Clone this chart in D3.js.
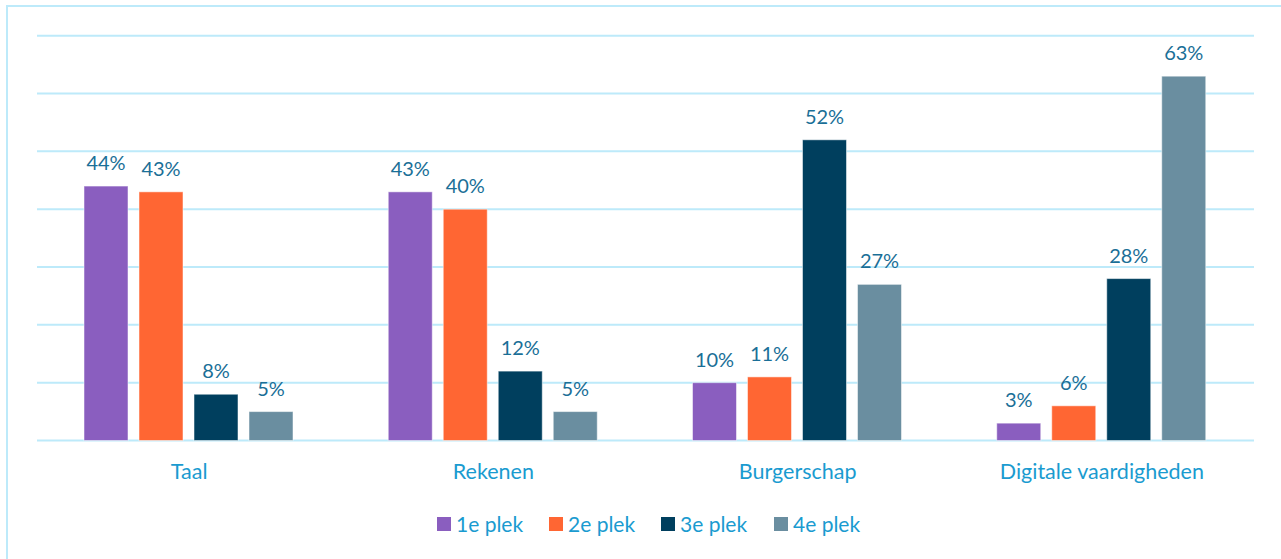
<!DOCTYPE html>
<html><head><meta charset="utf-8">
<script src="https://cdn.jsdelivr.net/npm/d3@7"></script>
<style>body{margin:0;background:#fff}svg{display:block}</style>
</head><body><svg id="c" width="1281" height="559"></svg>
<script>
const categories = ["Taal", "Rekenen", "Burgerschap", "Digitale vaardigheden"];
const seriesNames = ["1e plek", "2e plek", "3e plek", "4e plek"];
const seriesColors = ["#8A5EBF", "#FF6633", "#003F5E", "#6A8EA0"];
const s1 = [44, 43, 10, 3];
const s2 = [43, 40, 11, 6];
const s3 = [8, 12, 52, 28];
const s4 = [5, 5, 27, 63];
const yTicks = [0, 10, 20, 30, 40, 50, 60, 70];
const series = [s1, s2, s3, s4];

const svg = d3.select("#c");
const font = "Lato, 'Open Sans', sans-serif";
svg.append("rect").attr("x", 7).attr("y", 6).attr("width", 1290).attr("height", 600)
  .attr("fill", "none").attr("stroke", "#BDEAFA").attr("stroke-width", 2);

const x0 = d3.scaleBand().domain(categories).range([37, 1254]).paddingInner(0).paddingOuter(0);
const x1 = d3.scaleBand().domain(seriesNames).range([47, 47 + 4 * 43 + 3 * 12]).paddingInner(12 / 55);
const y = d3.scaleLinear().domain([0, 70]).range([440.5, 35.7]);

svg.append("g").selectAll("line").data(yTicks).join("line")
  .attr("x1", 37).attr("x2", 1254).attr("y1", d => y(d)).attr("y2", d => y(d))
  .attr("stroke", "#BDEAFA").attr("stroke-width", 2);

const data = [];
categories.forEach((c, i) => series.forEach((s, j) => data.push({c, n: seriesNames[j], v: s[i], col: seriesColors[j]})));

const g = svg.append("g");
g.selectAll("rect").data(data).join("rect")
  .attr("x", d => x0(d.c) + x1(d.n)).attr("width", x1.bandwidth() + 1)
  .attr("y", d => y(d.v)).attr("height", d => y(0) - y(d.v))
  .attr("fill", d => d.col).attr("stroke", "rgba(255,255,255,0.5)").attr("stroke-width", 1);

g.selectAll("text").data(data).join("text")
  .attr("x", d => x0(d.c) + x1(d.n) + x1.bandwidth() / 2 + 0.5).attr("y", d => y(d.v) - 16)
  .attr("text-anchor", "middle").attr("font-family", font).attr("font-size", 20)
  .attr("fill", "#1A6F97").text(d => d.v + "%");

svg.append("g").selectAll("text").data(categories).join("text")
  .attr("x", d => x0(d) + x0.bandwidth() / 2).attr("y", 479)
  .attr("text-anchor", "middle").attr("font-family", font).attr("font-size", 21.5)
  .attr("fill", "#1A9BD0").text(d => d);

const lx = [437, 549, 661, 774];
const lg = svg.append("g").selectAll("g").data(seriesNames).join("g")
  .attr("transform", (d, i) => `translate(${lx[i]},0)`);
lg.append("rect").attr("x", 0).attr("y", 517).attr("width", 14).attr("height", 14)
  .attr("fill", (d, i) => seriesColors[i]);
lg.append("text").attr("x", 19).attr("y", 532).attr("font-family", font).attr("font-size", 21)
  .attr("fill", "#1A9BD0").text(d => d);
</script></body></html>
